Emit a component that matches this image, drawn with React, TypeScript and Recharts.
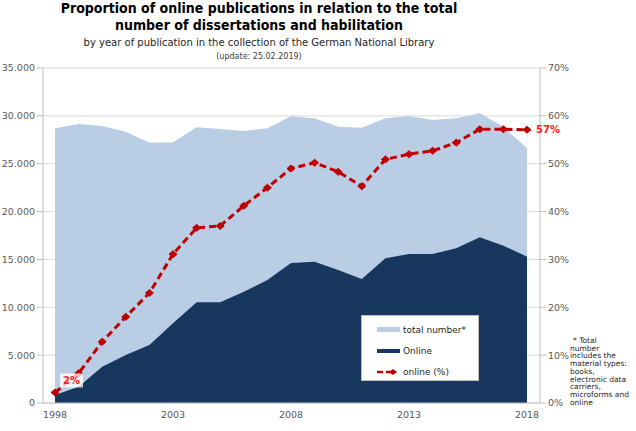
import React from "react";
import {
  ComposedChart,
  Area,
  Line,
  XAxis,
  YAxis,
  CartesianGrid,
  LabelList,
} from "recharts";

// values
const YEARS = [
  1998, 1999, 2000, 2001, 2002, 2003, 2004, 2005, 2006, 2007, 2008, 2009,
  2010, 2011, 2012, 2013, 2014, 2015, 2016, 2017, 2018,
];
const TOTAL = [
  28700, 29150, 28940, 28350, 27200, 27240, 28800, 28620, 28420, 28700,
  29950, 29740, 28870, 28760, 29740, 29990, 29570, 29740, 30270, 28870,
  26610,
];
const ONLINE = [
  840, 1700, 3790, 5010, 6060, 8330, 10520, 10520, 11630, 12850, 14630,
  14760, 13900, 12960, 15120, 15570, 15570, 16160, 17310, 16440, 15290,
];
const ONLINE_PCT = [
  2.2, 6.2, 12.8, 18.0, 23.0, 31.1, 36.6, 37.0, 41.2, 45.0, 49.0, 50.2,
  48.3, 45.3, 50.9, 52.0, 52.7, 54.4, 57.2, 57.2, 57.1,
];
const YEAR_TICKS = [1998, 2003, 2008, 2013, 2018];
const COUNT_TICKS = [0, 5000, 10000, 15000, 20000, 25000, 30000, 35000];
const PCT_TICKS = [0, 10, 20, 30, 40, 50, 60, 70];
const LEGEND_ITEMS = ["total number*", "Online", "online (%)"];
const FOOTNOTE = [
  "* Total",
  "number",
  "includes the",
  "material types:",
  "books,",
  "electronic data",
  "carriers,",
  "microforms and",
  "online",
];

const data = YEARS.map((year, i) => ({
  year,
  total: TOTAL[i],
  online: ONLINE[i],
  pct: ONLINE_PCT[i],
}));

const LIGHT = "#b9cde5";
const NAVY = "#17375e";
const RED = "#c00000";
const AXIS = "#bfbfbf";
const TICK = "#595959";
const FONT = '"DejaVu Sans", Verdana, sans-serif';

const fmtCount = (v: number) => (v === 0 ? "0" : `${v / 1000}.000`);

function Diamond(props: any) {
  const { cx, cy } = props;
  if (cx == null || cy == null) return null;
  return (
    <path
      d={`M${cx - 4},${cy} L${cx},${cy - 3.5} L${cx + 4},${cy} L${cx},${cy + 3.5} Z`}
      fill={RED}
      stroke={RED}
    />
  );
}

function PctLabel(props: any) {
  const { x, y, value, index } = props;
  const text = `${Math.round(value)}%`;
  if (index === 0) {
    return (
      <g>
        <rect x={x + 5} y={y - 19} width={23} height={14} fill="#ffffff" fillOpacity={0.75} />
        <text x={x + 16.5} y={y - 8} textAnchor="middle" fill="#ff2020" fontSize={10} fontWeight="bold" fontFamily={FONT}>
          {text}
        </text>
      </g>
    );
  }
  if (index === YEARS.length - 1) {
    return (
      <text x={x + 9} y={y + 3.5} fill="#ff2020" fontSize={10} fontWeight="bold" fontFamily={FONT}>
        {text}
      </text>
    );
  }
  return null;
}

function Swatch({ i }: { i: number }) {
  return (
    <svg width={24} height={8} style={{ marginRight: 2, flex: "none" }}>
      {i === 0 && <rect x={0} y={1} width={23} height={5} fill={LIGHT} />}
      {i === 1 && <rect x={0} y={2} width={23} height={4} fill={NAVY} />}
      {i === 2 && (
        <g>
          <line x1={0} y1={4} x2={16} y2={4} stroke={RED} strokeWidth={2.5} strokeDasharray="6 3" />
          <path d="M12,4 L16,1 L20,4 L16,7 Z" fill={RED} />
        </g>
      )}
    </svg>
  );
}

function LegendBox() {
  return (
    <div
      style={{
        position: "absolute",
        left: 361,
        top: 315,
        width: 118,
        height: 66,
        background: "#ffffff",
        border: "1px solid #bfbfbf",
        boxSizing: "border-box",
        paddingTop: 3,
        fontFamily: FONT,
        fontSize: 9,
        color: "#262626",
      }}
    >
      {LEGEND_ITEMS.map((label) => (
        <div key={label} style={{ display: "flex", alignItems: "center", height: 21, paddingLeft: 15 }}>
          <Swatch i={LEGEND_ITEMS.indexOf(label)} />
          <span style={{ whiteSpace: "nowrap" }}>{label}</span>
        </div>
      ))}
    </div>
  );
}

export default function App() {
  return (
    <div style={{ position: "absolute", left: 0, top: 0, width: 636, height: 431, background: "#ffffff", fontFamily: FONT }}>
      <div style={{ position: "absolute", left: 0, width: 518, top: 0, textAlign: "center", color: "#000" }}>
        <div style={{ fontFamily: '"DejaVu Sans Condensed", "DejaVu Sans", sans-serif', fontStretch: "condensed", fontWeight: "bold", fontSize: 14, lineHeight: "17px" }}>
          Proportion of online publications in relation to the total
          <br />
          number of dissertations and habilitation
        </div>
        <div style={{ fontSize: 10, lineHeight: "12px", marginTop: 3, color: "#262626" }}>
          by year of publication in the collection of the German National Library
        </div>
        <div style={{ fontSize: 8, lineHeight: "10px", marginTop: 3, color: "#404040" }}>
          (update: 25.02.2019)
        </div>
      </div>
      <ComposedChart
        width={636}
        height={431}
        data={data}
        margin={{ top: 68, right: 56, bottom: 8, left: 0 }}
      >
        <CartesianGrid yAxisId="count" vertical={false} stroke="#d9d9d9" />
        <XAxis
          dataKey="year"
          type="number"
          domain={[1998, 2018]}
          ticks={YEAR_TICKS}
          padding={{ left: 12, right: 13 }}
          height={20}
          axisLine={{ stroke: AXIS }}
          tickLine={false}
          tick={{ fontSize: 9.5, fill: TICK, fontFamily: FONT }}
        />
        <YAxis
          yAxisId="count"
          domain={[0, 35000]}
          ticks={COUNT_TICKS}
          tickFormatter={fmtCount}
          width={43}
          axisLine={{ stroke: AXIS }}
          tickLine={{ stroke: AXIS }}
          tickSize={6}
          tickMargin={2}
          tick={{ fontSize: 9.5, fill: TICK, fontFamily: FONT }}
        />
        <YAxis
          yAxisId="pct"
          orientation="right"
          domain={[0, 70]}
          ticks={PCT_TICKS}
          tickFormatter={(v: number) => `${v}%`}
          width={40}
          axisLine={{ stroke: AXIS }}
          tickLine={{ stroke: AXIS }}
          tickSize={6}
          tickMargin={2}
          tick={{ fontSize: 9.5, fill: TICK, fontFamily: FONT }}
        />
        <Area
          yAxisId="count"
          dataKey="total"
          name="total number*"
          type="linear"
          stroke="none"
          fill={LIGHT}
          fillOpacity={1}
          isAnimationActive={false}
        />
        <Area
          yAxisId="count"
          dataKey="online"
          name="Online"
          type="linear"
          stroke="none"
          fill={NAVY}
          fillOpacity={1}
          isAnimationActive={false}
        />
        <Line
          yAxisId="pct"
          dataKey="pct"
          name="online (%)"
          type="linear"
          stroke={RED}
          strokeWidth={3}
          strokeDasharray="7 4"
          dot={<Diamond />}
          activeDot={false}
          isAnimationActive={false}
        >
          <LabelList dataKey="pct" content={<PctLabel />} />
        </Line>
      </ComposedChart>
      <LegendBox />
      <div style={{ position: "absolute", left: 570, top: 337, fontSize: 7.5, lineHeight: "7.7px", color: "#262626", whiteSpace: "pre" }}>
        {FOOTNOTE.map((l, i) => (
          <div key={i} style={{ paddingLeft: i === 0 ? 3 : 0 }}>{l}</div>
        ))}
      </div>
    </div>
  );
}
